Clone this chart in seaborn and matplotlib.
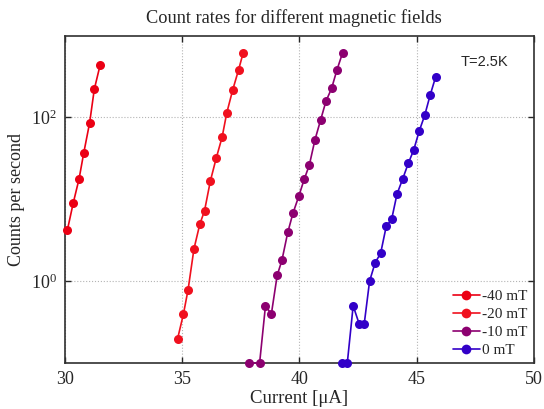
import numpy as np
import pandas as pd
import matplotlib
matplotlib.use("Agg")
import matplotlib.pyplot as plt
import seaborn as sns
from matplotlib.ticker import FixedLocator, LogFormatterMathtext, NullLocator

# Measured count rates versus bias current for each magnetic field
current_m40 = [30.1, 30.35, 30.6, 30.8, 31.05, 31.25, 31.5]
counts_m40 = [4.2, 9.0, 17.8, 37, 86, 222, 440]

current_m20 = [34.8, 35.05, 35.25, 35.5, 35.75, 35.95, 36.2, 36.45, 36.7, 36.9, 37.15, 37.4, 37.6]
counts_m20 = [0.197, 0.395, 0.79, 2.48, 4.98, 7.23, 16.8, 31.9, 57.5, 114, 216, 380, 618]

current_m10 = [37.85, 38.3, 38.55, 38.8, 39.05, 39.25, 39.5, 39.72, 39.97, 40.2, 40.42, 40.66, 40.9,
               41.13, 41.37, 41.6, 41.84]
counts_m10 = [0.1, 0.1, 0.50, 0.395, 1.18, 1.79, 3.94, 6.73, 10.9, 17.5, 26.2, 53.3, 92.9,
              158, 227, 383, 618]

current_0 = [41.83, 42.04, 42.29, 42.55, 42.76, 42.99, 43.23, 43.46, 43.7, 43.93, 44.16, 44.4, 44.64,
             44.87, 45.11, 45.34, 45.57, 45.81]
counts_0 = [0.1, 0.1, 0.5, 0.298, 0.298, 1.0, 1.69, 2.18, 4.67, 5.68, 11.6, 17.7, 27.5,
            39.9, 68.7, 106, 186, 315]

field_labels = ["-40 mT", "-20 mT", "-10 mT", "0 mT"]
field_colors = ["#eb0014", "#f0101e", "#8c0070", "#3200c8"]

x_ticks = [30, 35, 40, 45, 50]
y_ticks = [1e0, 1e2]

series = [(current_m40, counts_m40), (current_m20, counts_m20),
          (current_m10, counts_m10), (current_0, counts_0)]
frames = []
for label, (cur, cnt) in zip(field_labels, series):
    frames.append(pd.DataFrame({"current": cur, "counts": cnt, "field": label}))
data = pd.concat(frames, ignore_index=True)

sns.set_style("ticks")
plt.rcParams["font.family"] = ["Liberation Serif", "DejaVu Serif"]
plt.rcParams["mathtext.fontset"] = "stix"

fig = plt.figure(figsize=(5.44, 4.09), dpi=100)
ax = fig.add_axes([0.1195, 0.1125, 0.862, 0.8003])

sns.lineplot(data=data, x="current", y="counts", hue="field", hue_order=field_labels,
             palette=dict(zip(field_labels, field_colors)), marker="o", markersize=6.5,
             markeredgewidth=0, linewidth=1.2, sort=False, estimator=None,
             ax=ax, legend=False, clip_on=False, zorder=3)

ax.set_yscale("log")
ax.set_xlim(30, 50)
ax.set_ylim(0.1, 1000)
ax.xaxis.set_major_locator(FixedLocator(x_ticks))
ax.yaxis.set_major_locator(FixedLocator(y_ticks))
ax.yaxis.set_major_formatter(LogFormatterMathtext())
ax.yaxis.set_minor_locator(NullLocator())
ax.tick_params(axis="both", which="major", direction="in", length=4, width=1,
               labelsize=13, top=True, right=True, pad=6)
ax.grid(True, which="major", color="#b4b4b4", linestyle=":", linewidth=0.8)
for side in ax.spines.values():
    side.set_linewidth(1.2)
    side.set_color("#303030")

ax.set_xlabel("Current [μA]", fontsize=13.5, labelpad=1)
ax.set_ylabel("Counts per second", fontsize=13, labelpad=4)
ax.set_title("Count rates for different magnetic fields", fontsize=13.2, pad=9, x=0.489)

ax.text(0.945, 0.92, "T=2.5K", transform=ax.transAxes, ha="right", va="center",
        fontsize=10.5, family=["Liberation Sans", "DejaVu Sans"])

handles = [plt.Line2D([], [], color=c, marker="o", markersize=7, markeredgewidth=0,
                      linewidth=1.2) for c in field_colors]
ax.legend(handles, field_labels, loc="lower right", frameon=False, fontsize=11,
          handlelength=1.8, handletextpad=0.15, labelspacing=0.27, borderaxespad=0.0)

fig.savefig("out.png", dpi=100)
